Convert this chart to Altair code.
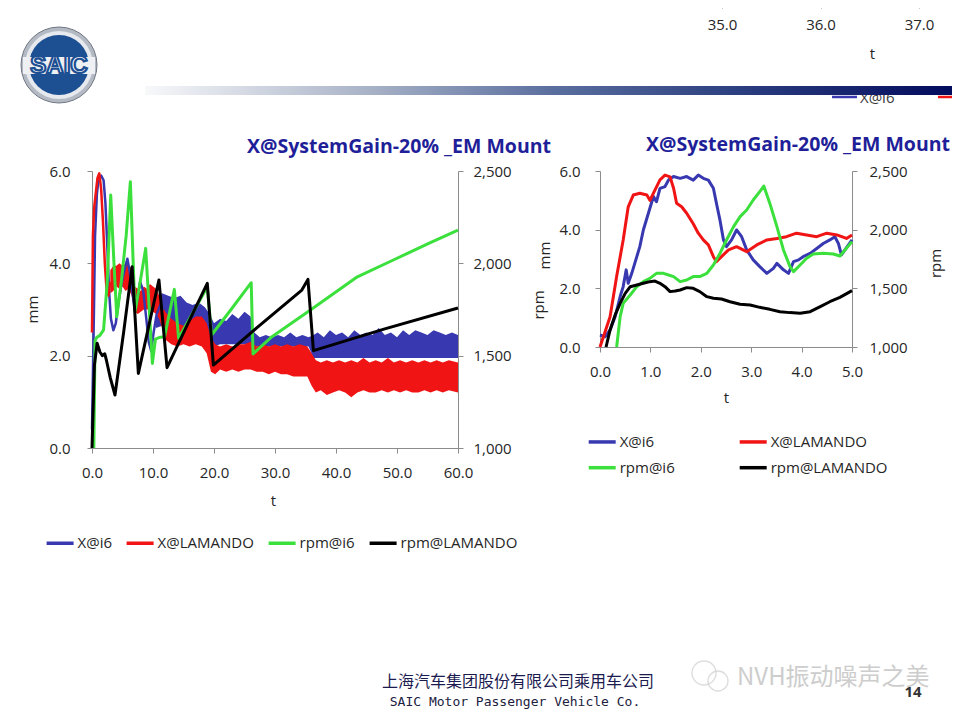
import altair as alt
import pandas as pd

FONT = "Open Sans"
TITLE = "X@SystemGain-20% _EM Mount"
SERIES = ["X@i6", "X@LAMANDO", "rpm@i6", "rpm@LAMANDO"]
COLORS = ["#3838b0", "#f01414", "#3ce03c", "#000000"]

# ---------------- left panel (0-60 s) ----------------
L_XTICKS = [0, 10, 20, 30, 40, 50, 60]
MM_TICKS = [0, 2, 4, 6]
RPM_TICKS = [1000, 1500, 2000, 2500]

# X@i6 early trace (mm)
LB_T = [0.0, 0.3, 0.5, 0.8, 1.1, 1.5, 1.9, 2.2, 2.5, 2.8, 3.1, 3.5, 3.9, 4.4, 4.9, 5.4, 5.8,
        6.2, 6.6, 7.0, 7.4, 7.9, 8.4, 8.9, 9.3, 9.7, 10.1, 10.6, 11.2, 11.8]
LB_V = [0.4, 2.8, 4.6, 5.5, 5.85, 5.9, 5.8, 5.3, 4.4, 3.4, 2.8, 2.55, 2.7, 3.2, 3.6, 3.9, 4.1,
        3.8, 3.4, 3.0, 3.2, 3.6, 3.4, 2.8, 2.3, 2.1, 2.5, 2.9, 3.1, 3.0]
# X@i6 noisy band envelope (mm)
LBB_T = [10.5, 11.5, 12.5, 13.5, 14.5, 15.5, 16.5, 17.5, 18.5, 19.3, 20.0, 21.0, 22.0, 23.0,
         24.0, 25.0, 26.0, 26.6, 27.5, 28.5, 29.5, 30.5, 31.5, 32.5, 33.5, 34.5, 35.5, 36.3,
         37.0, 38.0, 39.0, 40.0, 41.0, 42.0, 43.0, 44.0, 45.0, 46.0, 47.0, 48.0, 49.0, 50.0,
         51.0, 52.0, 53.0, 54.0, 55.0, 56.0, 57.0, 58.0, 59.0, 60.0]
LBB_LO = [2.6, 2.65, 2.6, 2.55, 2.6, 2.55, 2.5, 2.5, 2.4, 2.3, 2.2, 2.25, 2.25, 2.25,
          2.25, 2.25, 2.25, 2.2, 2.2, 2.2, 2.2, 2.2, 2.2, 2.2, 2.2, 2.2, 2.2, 1.95,
          1.95, 1.95, 1.95, 1.95, 1.95, 1.95, 1.95, 1.95, 1.95, 1.95, 1.95, 1.95, 1.95, 1.95,
          1.95, 1.95, 1.95, 1.95, 1.95, 1.95, 1.95, 1.95, 1.95, 1.95]
LBB_HI = [3.2, 3.35, 3.3, 3.25, 3.3, 3.15, 3.1, 3.15, 3.05, 2.9, 2.7, 2.8, 2.75, 2.9,
          2.8, 2.95, 2.85, 2.5, 2.4, 2.45, 2.4, 2.45, 2.4, 2.5, 2.4, 2.45, 2.4, 2.45,
          2.5, 2.4, 2.55, 2.45, 2.5, 2.4, 2.55, 2.45, 2.5, 2.45, 2.6, 2.45, 2.5, 2.4,
          2.55, 2.45, 2.55, 2.5, 2.45, 2.55, 2.5, 2.45, 2.5, 2.45]

# X@LAMANDO early trace (mm)
LR_T = [0.0, 0.15, 0.35, 0.6, 0.9, 1.2, 1.5, 1.8, 2.1, 2.4, 2.7, 3.0]
LR_V = [2.5, 4.6, 5.2, 5.5, 5.85, 5.95, 5.6, 4.9, 4.0, 3.4, 3.3, 3.6]
# X@LAMANDO noisy band envelope (mm)
LRB_T = [3.0, 3.5, 4.0, 4.5, 5.0, 5.5, 6.0, 6.5, 7.0, 7.5, 8.0, 8.5, 9.0, 9.5, 10.0, 10.5,
         11.0, 11.5, 12.0, 13.0, 14.0, 15.0, 16.0, 17.0, 18.0, 18.8, 19.5, 20.2, 21.0, 22.0,
         23.0, 24.0, 25.0, 26.0, 27.0, 28.0, 29.0, 30.0, 31.0, 32.0, 33.0, 34.0, 35.3, 36.0,
         36.7, 37.5, 38.5, 39.5, 40.5, 41.5, 42.5, 43.5, 44.5, 45.5, 46.5, 47.5, 48.5, 49.5,
         50.5, 51.5, 52.5, 53.5, 54.5, 55.5, 56.5, 57.5, 58.5, 60.0]
LRB_LO = [3.35, 3.4, 3.5, 3.45, 3.5, 3.4, 3.45, 3.3, 2.95, 2.9, 2.95, 3.0, 3.0, 3.0, 2.95, 2.9,
          2.8, 2.6, 2.35, 2.25, 2.2, 2.25, 2.2, 2.25, 2.2, 2.05, 1.65, 1.6, 1.7, 1.65,
          1.7, 1.65, 1.7, 1.7, 1.65, 1.65, 1.6, 1.65, 1.6, 1.6, 1.55, 1.55, 1.55, 1.35,
          1.2, 1.25, 1.15, 1.2, 1.25, 1.2, 1.1, 1.2, 1.25, 1.2, 1.2, 1.25, 1.2, 1.25,
          1.2, 1.25, 1.2, 1.2, 1.25, 1.2, 1.25, 1.2, 1.25, 1.2]
LRB_HI = [3.85, 3.95, 3.95, 4.0, 3.95, 4.0, 3.95, 3.9, 3.5, 3.45, 3.4, 3.5, 3.45, 3.55, 3.5, 3.45,
          3.3, 3.1, 2.95, 2.8, 2.7, 2.65, 2.75, 2.85, 2.85, 2.7, 2.4, 2.25, 2.2, 2.25,
          2.2, 2.25, 2.25, 2.3, 2.2, 2.25, 2.2, 2.25, 2.2, 2.25, 2.2, 2.25, 2.2, 2.05,
          1.9, 1.85, 1.9, 1.85, 1.9, 1.85, 1.9, 1.85, 1.95, 1.85, 1.9, 1.85, 1.95, 1.85,
          1.9, 1.85, 1.9, 1.85, 1.9, 1.85, 1.9, 1.85, 1.9, 1.85]

# rpm@i6 (left)
LG_T = [0.3, 0.5, 0.8, 1.3, 1.9, 2.5, 3.07, 3.6, 4.06, 4.8, 5.6, 6.29, 6.7, 7.05, 7.9, 8.8,
        9.3, 9.9, 10.4, 11.2, 11.9, 13.5, 14.2, 16.5, 18.9, 19.6, 22.8, 26.1, 26.4, 29.5,
        35.4, 43.5, 49.4, 55.2, 60.0]
LG_R = [1000, 1580, 1600, 1610, 1640, 1900, 2370, 2000, 1711, 1900, 2150, 2442, 2050, 1738,
        1900, 2081, 1800, 1458, 1590, 1600, 1603, 1859, 1594, 1730, 1873, 1612, 1750, 1895,
        1509, 1603, 1738, 1927, 2018, 2108, 2180]
# rpm@LAMANDO (left)
LK_T = [0.0, 0.4, 0.84, 1.3, 1.7, 2.1, 2.4, 3.0, 3.77, 5.2, 6.58, 7.6, 9.3, 10.97, 12.3,
        15.6, 18.9, 19.9, 27.0, 34.4, 35.4, 36.3, 48.0, 60.0]
LK_R = [1000, 1450, 1567, 1520, 1500, 1510, 1470, 1380, 1287, 1630, 1982, 1404, 1660, 1910,
        1435, 1665, 1892, 1449, 1650, 1855, 1913, 1527, 1645, 1758]

# ---------------- right panel (0-5 s) ----------------
R_XTICKS = [0, 1, 2, 3, 4, 5]
RB_T = [0.0, 0.1, 0.2, 0.3, 0.4, 0.46, 0.52, 0.56, 0.63, 0.73, 0.79, 0.86, 0.96, 1.06, 1.12,
        1.19, 1.29, 1.36, 1.46, 1.59, 1.72, 1.85, 1.95, 2.05, 2.15, 2.25, 2.31, 2.38, 2.45,
        2.51, 2.61, 2.71, 2.81, 2.91, 3.04, 3.17, 3.31, 3.44, 3.51, 3.64, 3.74, 3.84, 3.94,
        4.03, 4.17, 4.3, 4.43, 4.56, 4.66, 4.73, 4.79, 4.86, 4.93, 5.0]
RB_V = [0.41, 0.35, 0.58, 1.03, 1.72, 2.06, 2.63, 2.17, 2.51, 3.08, 3.42, 3.99, 4.56, 5.13, 4.95,
        5.41, 5.47, 5.69, 5.81, 5.75, 5.81, 5.69, 5.86, 5.75, 5.69, 5.41, 4.9, 4.33, 3.65,
        3.42, 3.65, 3.99, 3.76, 3.31, 2.97, 2.74, 2.51, 2.68, 2.85, 2.63, 2.51, 2.91, 2.97,
        3.08, 3.19, 3.36, 3.53, 3.65, 3.76, 3.53, 3.14, 3.31, 3.48, 3.65]
RR_T = [0.0, 0.2, 0.33, 0.46, 0.56, 0.66, 0.79, 0.93, 0.99, 1.09, 1.19, 1.29, 1.39, 1.46, 1.52,
        1.62, 1.72, 1.85, 1.95, 2.05, 2.15, 2.25, 2.31, 2.41, 2.55, 2.71, 2.91, 3.11, 3.31,
        3.51, 3.70, 3.90, 4.1, 4.3, 4.5, 4.7, 4.89, 5.0]
RR_V = [0.0, 1.03, 2.4, 3.65, 4.78, 5.18, 5.24, 5.18, 5.0, 5.35, 5.7, 5.86, 5.8, 5.41, 4.9,
        4.78, 4.56, 4.2, 3.88, 3.65, 3.48, 3.08, 2.91, 3.08, 3.31, 3.42, 3.25, 3.48, 3.65,
        3.7, 3.76, 3.88, 3.82, 3.76, 3.88, 3.82, 3.7, 3.82]
RG_T = [0.33, 0.4, 0.46, 0.6, 0.73, 0.86, 0.99, 1.12, 1.26, 1.36, 1.46, 1.59, 1.72, 1.85, 1.98,
        2.12, 2.25, 2.38, 2.51, 2.65, 2.78, 2.91, 3.04, 3.17, 3.25, 3.37, 3.51, 3.64, 3.77,
        3.84, 3.97, 4.1, 4.23, 4.43, 4.63, 4.76, 4.86, 5.0]
RG_R = [1000, 1259, 1372, 1443, 1514, 1557, 1585, 1628, 1628, 1614, 1600, 1557, 1571, 1600, 1600,
        1628, 1699, 1798, 1912, 2026, 2111, 2168, 2253, 2324, 2372, 2224, 2026, 1827, 1685,
        1642, 1699, 1756, 1793, 1798, 1793, 1776, 1827, 1898]
RK_T = [0.12, 0.2, 0.3, 0.4, 0.5, 0.6, 0.73, 0.86, 0.99, 1.09, 1.19, 1.29, 1.39, 1.49, 1.59,
        1.72, 1.85, 1.98, 2.12, 2.25, 2.41, 2.58, 2.78, 2.98, 3.17, 3.37, 3.57, 3.77, 3.97,
        4.17, 4.37, 4.56, 4.76, 5.0]
RK_R = [1000, 1145, 1273, 1372, 1457, 1514, 1528, 1543, 1557, 1562, 1543, 1514, 1472, 1477, 1486,
        1506, 1500, 1472, 1429, 1415, 1409, 1386, 1364, 1358, 1338, 1321, 1301, 1293, 1287,
        1301, 1344, 1386, 1423, 1480]

# partial chart peeking in at the top of the slide
TOP_TICKS = [35.0, 36.0, 37.0]

FOOT_CN = "上海汽车集团股份有限公司乘用车公司"
FOOT_EN = "SAIC Motor Passenger Vehicle Co."
WATERMARK = "NVH振动噪声之美"
PAGE = "14"
LOGO = "SAIC"

# ---------------- layout (pixels, chart coordinates) ----------------
W, H = 944, 704
LXR, LYR = [84, 450], [440, 163]
RXR, RYR = [592, 844], [339, 163]

AX = dict(grid=False, domainColor="#8c8c8c", tickColor="#8c8c8c", labelColor="#262626",
          labelFont=FONT, labelFontSize=15, titleFont=FONT, titleFontSize=15,
          titleColor="#262626", titleFontWeight="normal", labelFlush=False, tickSize=5,
          titleAlign="center", titleBaseline="middle")


def sc(dom, rng):
    return alt.Scale(domain=dom, range=rng, nice=False, zero=False)


# left legend uses the colour channel, right legend the stroke channel; the stroke scale
# lists the same series in another order so that the two legends are not merged
cscale = alt.Scale(domain=SERIES, range=COLORS)
sscale = alt.Scale(domain=SERIES[::-1], range=COLORS[::-1])
LEG_COMMON = dict(orient="none", symbolType="stroke", symbolSize=729, symbolStrokeWidth=3.5,
                  labelFont=FONT, labelFontSize=15, labelColor="#262626", labelOffset=2,
                  title=None, padding=0, values=SERIES)
left_legend = alt.Legend(legendX=36.6, legendY=519.5, direction="horizontal", columns=4,
                         columnPadding=7, **LEG_COMMON)
right_legend = alt.Legend(legendX=578.7, legendY=418.2, direction="horizontal", columns=2,
                          columnPadding=57, rowPadding=2, **LEG_COMMON)

lx_axis = alt.Axis(orient="bottom", offset=LYR[0] - H, values=L_XTICKS, format=".1f",
                   labelPadding=12, title="t", titleX=265, titleY=52, titleAngle=0, **AX)
ly_axis = alt.Axis(orient="left", offset=-LXR[0], values=MM_TICKS, format=".1f",
                   labelPadding=17, title="mm", titleX=-60, titleY=301, titleAngle=270, **AX)
lr_axis = alt.Axis(orient="right", offset=LXR[1] - W, values=RPM_TICKS, format=",.0f",
                   labelPadding=10, title=None, **AX)
rx_axis = alt.Axis(orient="bottom", offset=RYR[0] - H, values=R_XTICKS, format=".1f",
                   labelPadding=12, title="t", titleX=718, titleY=50, titleAngle=0, **AX)
ry_axis = alt.Axis(orient="left", offset=-RXR[0], values=MM_TICKS, format=".1f",
                   labelPadding=15, title="mm", titleX=-56, titleY=247, titleAngle=270, **AX)
rr_axis = alt.Axis(orient="right", offset=RXR[1] - W, values=RPM_TICKS, format=",.0f",
                   labelPadding=12, title="rpm", titleX=83, titleY=255, titleAngle=270, **AX)
top_axis = alt.Axis(orient="bottom", offset=-5 - H, values=TOP_TICKS, format=".1f",
                    labelPadding=9, title="t", titleX=864, titleY=50, titleAngle=0, **AX)


def df_line(t, v, name):
    return pd.DataFrame({"t": t, "v": v, "series": name, "name": name})


def band(t, lo, hi, color, xaxis=None, yaxis=None):
    d = pd.DataFrame({"t": t, "lo": lo, "hi": hi})
    return alt.Chart(d).mark_area(color=color, opacity=1, interpolate="linear").encode(
        x=alt.X("t:Q", scale=sc([0, 60], LXR), axis=xaxis),
        y=alt.Y("lo:Q", scale=sc([0, 6], LYR), axis=yaxis),
        y2="hi:Q",
    )


def line(d, xdom, xr, ydom, yr, chan, width, xaxis=None, yaxis=None):
    enc = dict(
        x=alt.X("t:Q", scale=sc(xdom, xr), axis=xaxis),
        y=alt.Y("v:Q", scale=sc(ydom, yr), axis=yaxis),
    )
    if chan == "color":
        enc["color"] = alt.Color("series:N", scale=cscale, legend=left_legend)
    else:
        enc["stroke"] = alt.Stroke("name:N", scale=sscale, legend=right_legend)
    return alt.Chart(d).mark_line(strokeWidth=width, strokeJoin="round").encode(**enc)


layers = []

# ---- left panel ----
layers.append(band(LBB_T, LBB_LO, LBB_HI, COLORS[0], xaxis=lx_axis, yaxis=ly_axis))
layers.append(band(LRB_T, LRB_LO, LRB_HI, COLORS[1]))
layers.append(line(df_line(LB_T, LB_V, SERIES[0]), [0, 60], LXR, [0, 6], LYR, "color", 2.5))
layers.append(line(df_line(LR_T, LR_V, SERIES[1]), [0, 60], LXR, [0, 6], LYR, "color", 2.5))
layers.append(line(df_line(LG_T, LG_R, SERIES[2]), [0, 60], LXR, [1000, 2500], LYR, "color", 3,
                   yaxis=lr_axis))
layers.append(line(df_line(LK_T, LK_R, SERIES[3]), [0, 60], LXR, [1000, 2500], LYR, "color", 3))

# ---- right panel ----
layers.append(line(df_line(RB_T, RB_V, SERIES[0]), [0, 5], RXR, [0, 6], RYR, "stroke", 3,
                   xaxis=rx_axis, yaxis=ry_axis))
layers.append(line(df_line(RR_T, RR_V, SERIES[1]), [0, 5], RXR, [0, 6], RYR, "stroke", 3))
layers.append(line(df_line(RG_T, RG_R, SERIES[2]), [0, 5], RXR, [1000, 2500], RYR, "stroke", 3,
                   yaxis=rr_axis))
layers.append(line(df_line(RK_T, RK_R, SERIES[3]), [0, 5], RXR, [1000, 2500], RYR, "stroke", 3))

# ---- partial chart at top ----
layers.append(alt.Chart(pd.DataFrame({"v": TOP_TICKS})).mark_point(opacity=0).encode(
    x=alt.X("v:Q", scale=sc([35, 37], [714, 911]), axis=top_axis)))

one = pd.DataFrame({"k": [0]})


def txt(text, x, y, **kw):
    return alt.Chart(one).mark_text(text=text, **kw).encode(x=alt.value(x), y=alt.value(y))


# panel titles and stray axis title
layers.append(txt(TITLE, 391, 138.7, font=FONT, fontSize=19.5, fontWeight="bold",
                  color="#1f1f99", align="center", baseline="middle"))
layers.append(txt(TITLE, 790, 137, font=FONT, fontSize=19.5, fontWeight="bold",
                  color="#1f1f99", align="center", baseline="middle"))
layers.append(txt("rpm", 531, 297, font=FONT, fontSize=15, color="#262626", angle=270,
                  align="center", baseline="middle"))

# partial legend below header bar (drawn before the bar)
layers.append(alt.Chart(one).mark_rule(color=COLORS[0], strokeWidth=2.5).encode(
    x=alt.value(824), x2=alt.value(849), y=alt.value(89)))
layers.append(txt("X@i6", 852, 90, font=FONT, fontSize=15, color="#3a3a3a", align="left",
                  baseline="middle"))
layers.append(alt.Chart(one).mark_rule(color=COLORS[1], strokeWidth=2.5).encode(
    x=alt.value(930), x2=alt.value(952), y=alt.value(89)))

# header gradient bar
grad = {"gradient": "linear", "x1": 0, "x2": 1, "y1": 0, "y2": 0,
        "stops": [{"offset": 0, "color": "#f7f8fa"}, {"offset": 0.27, "color": "#aab4c8"},
                  {"offset": 0.5, "color": "#5b6f9f"}, {"offset": 0.73, "color": "#2c3f80"},
                  {"offset": 1, "color": "#020a5c"}]}
layers.append(alt.Chart(one).mark_rect(color=grad).encode(
    x=alt.value(137), x2=alt.value(947), y=alt.value(78), y2=alt.value(87)))

# SAIC logo
layers.append(alt.Chart(one).mark_circle(size=5776, color="#b4bac4", opacity=1,
                                         stroke="#6f7682", strokeWidth=1).encode(
    x=alt.value(51), y=alt.value(57)))
layers.append(alt.Chart(one).mark_circle(size=4624, color="#e6e9ee", opacity=1).encode(
    x=alt.value(51), y=alt.value(57)))
layers.append(alt.Chart(one).mark_circle(size=3600, color="#1d4f93", opacity=1).encode(
    x=alt.value(51), y=alt.value(57)))
layers.append(alt.Chart(one).mark_rect(color="#eef0f3").encode(
    x=alt.value(15), x2=alt.value(87), y=alt.value(49), y2=alt.value(66)))
layers.append(txt(LOGO, 51, 58, font="Liberation Sans", fontSize=24, fontWeight="bold",
                  color="#ffffff", stroke="#1d4f93", strokeWidth=2.2, align="center",
                  baseline="middle"))

# footer
layers.append(txt(FOOT_CN, 510, 674, font="Noto Sans CJK SC", fontSize=16, color="#1b1b50",
                  align="center", baseline="middle"))
layers.append(txt(FOOT_EN, 507, 693.5, font="DejaVu Sans Mono", fontSize=13, color="#202040",
                  align="center", baseline="middle"))
layers.append(alt.Chart(one).mark_point(shape="circle", size=576, filled=False, color="#cfcfcf",
                                        strokeWidth=1.3).encode(x=alt.value(696), y=alt.value(665)))
layers.append(alt.Chart(one).mark_point(shape="circle", size=400, filled=False, color="#cfcfcf",
                                        strokeWidth=1.3).encode(x=alt.value(710), y=alt.value(673)))
layers.append(txt(WATERMARK, 729, 670, font="Noto Sans CJK SC", fontSize=24, color="#cdcdcd",
                  align="left", baseline="middle"))
layers.append(txt(PAGE, 905, 684, font=FONT, fontSize=15, fontWeight="bold", color="#333333",
                  align="center", baseline="middle"))

chart = alt.layer(*layers).resolve_scale(x="independent", y="independent").properties(
    width=W, height=H, autosize=alt.AutoSizeParams(type="none"), padding=0,
    background="#ffffff",
).configure_view(strokeWidth=0)

chart.save("out.html", embed_options={"renderer": "svg", "actions": False})
